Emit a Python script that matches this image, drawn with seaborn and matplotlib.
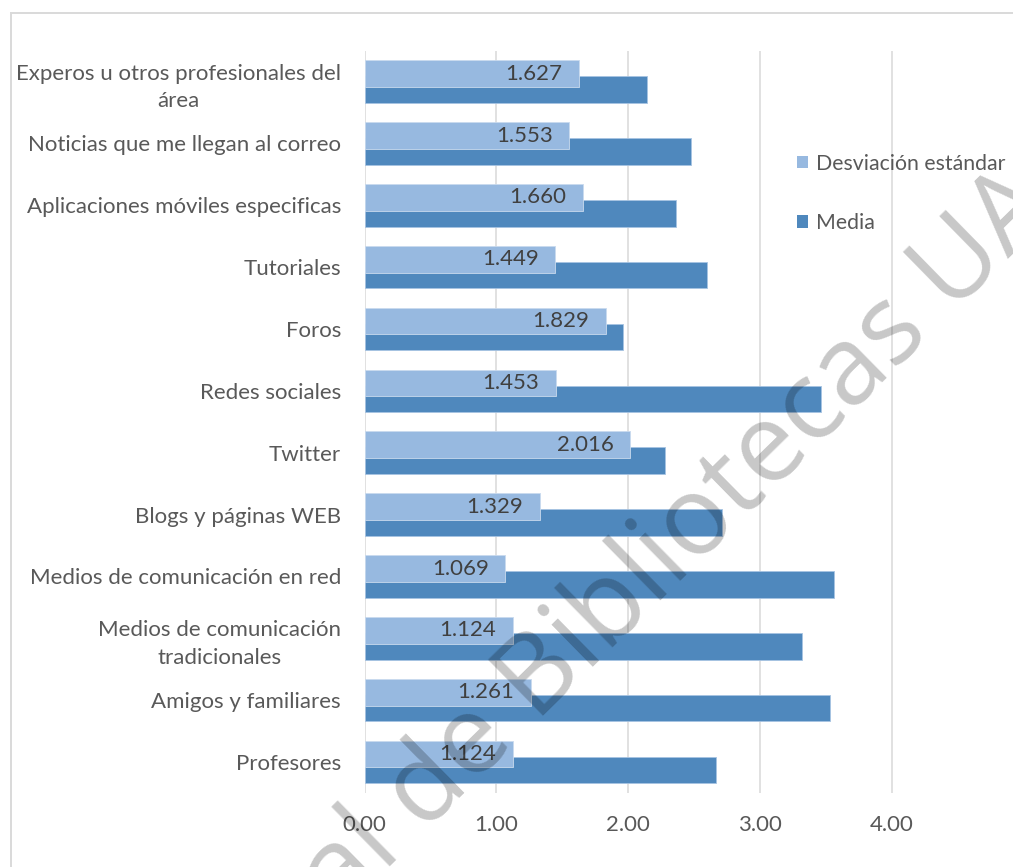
import matplotlib
matplotlib.use("Agg")
import matplotlib.pyplot as plt
from matplotlib.patches import Patch, Rectangle
import seaborn as sns
import pandas as pd
import numpy as np

# Sources of information, top to bottom
categories = [
    "Experos u otros profesionales del\nárea",
    "Noticias que me llegan al correo",
    "Aplicaciones móviles especificas",
    "Tutoriales",
    "Foros",
    "Redes sociales",
    "Twitter",
    "Blogs y páginas WEB",
    "Medios de comunicación en red",
    "Medios de comunicación\ntradicionales",
    "Amigos y familiares",
    "Profesores",
]
desviacion = [1.627, 1.553, 1.660, 1.449, 1.829, 1.453, 2.016, 1.329, 1.069, 1.124, 1.261, 1.124]
media = [2.14, 2.48, 2.36, 2.60, 1.96, 3.46, 2.28, 2.71, 3.56, 3.32, 3.53, 2.67]
x_ticks = [0, 1, 2, 3, 4]
series_names = ["Desviación estándar", "Media"]

C_STD = "#97B9E0"
C_MEAN = "#4F88BD"
TXT = "#595959"
FONT = "Lato"
FS = 16

sns.set_theme(style="white")
plt.rcParams["font.family"] = [FONT, "DejaVu Sans"]

W, H = 1013, 867
fig = plt.figure(figsize=(W / 100, H / 100), dpi=100)
ax = fig.add_axes([364.5 / W, (H - 793) / H, 5 * 131.8 / W, 742.3 / H])

idx = np.arange(len(categories))
shift = 0.129
df_mean = pd.DataFrame({"valor": media, "pos": idx + shift})
df_std = pd.DataFrame({"valor": desviacion, "pos": idx - shift})

# mean bars underneath, std bars overlapping on top
sns.barplot(data=df_mean, x="valor", y="pos", orient="y", native_scale=True,
            width=0.43, color=C_MEAN, saturation=1, errorbar=None, ax=ax,
            edgecolor="#A7C3E2", linewidth=0.6, zorder=2)
sns.barplot(data=df_std, x="valor", y="pos", orient="y", native_scale=True,
            width=0.43, color=C_STD, saturation=1, errorbar=None, ax=ax,
            edgecolor="#C9DAEE", linewidth=0.6, zorder=3)
std_container = ax.containers[-1]

anns = ax.bar_label(std_container, labels=[f"{v:.3f}" for v in desviacion],
                    label_type="edge", padding=-12, color="#404040", fontsize=FS)
for a in anns:
    a.set_ha("right")
    a.set_zorder(4)

ax.set_xlim(0, 5)
ax.set_ylim(len(categories) - 0.5, -0.5)
ax.set_yticks(idx)
ax.set_yticklabels(categories, fontsize=FS, color=TXT, multialignment="center",
                   linespacing=1.45)
ax.set_xticks(x_ticks)
ax.set_xticklabels([f"{t:.2f}" for t in x_ticks], fontsize=FS, color=TXT)
ax.tick_params(axis="y", length=0, pad=17)
ax.tick_params(axis="x", length=0, pad=16)
ax.set_xlabel("")
ax.set_ylabel("")
ax.grid(axis="x", color="#D9D9D9", linewidth=1.1, zorder=0)
ax.grid(axis="y", visible=False)
ax.set_axisbelow(True)
for s in ax.spines.values():
    s.set_visible(False)

handles = [Patch(facecolor=C_STD, edgecolor="none"), Patch(facecolor=C_MEAN, edgecolor="none")]
leg = fig.legend(handles, series_names, loc="upper left",
                 bbox_to_anchor=(788 / W, 1 - 145 / H), frameon=False,
                 fontsize=15.3, handlelength=0.55, handleheight=0.55,
                 handletextpad=0.35, labelspacing=1.85, borderaxespad=0)
for t in leg.get_texts():
    t.set_color(TXT)

# chart area frame
fig.add_artist(Rectangle((11 / W, -0.1), 2, 1 - 13 / H + 0.1,
                         transform=fig.transFigure, fill=False,
                         edgecolor="#D9D9D9", linewidth=1.4))

# repository watermark
fig.text(340 / W, 1 - 915 / H, "al de Bibliotecas UA", fontsize=79,
         rotation=44.5, rotation_mode="anchor", ha="left", va="baseline",
         color="black", alpha=0.22, fontweight="normal",
         family=["Open Sans", "DejaVu Sans"], zorder=10)

fig.savefig("out.png", dpi=100)
